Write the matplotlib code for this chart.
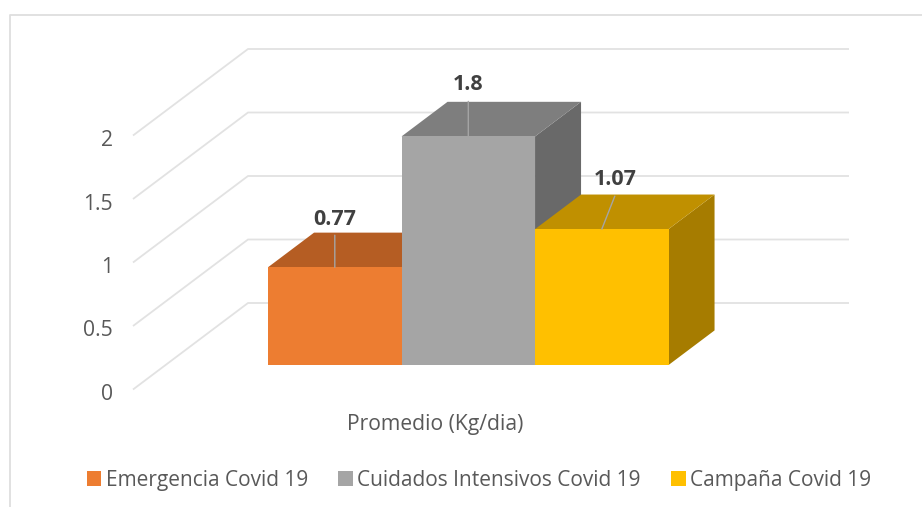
import matplotlib
matplotlib.use("Agg")
import matplotlib.pyplot as plt
from matplotlib.patches import Polygon, Patch
from matplotlib.lines import Line2D

plt.rcParams['font.family'] = ['Open Sans', 'DejaVu Sans']

# Data
series = ['Emergencia Covid 19', 'Cuidados Intensivos Covid 19', 'Campaña Covid 19']
values = [0.77, 1.8, 1.07]
category = 'Promedio (Kg/dia)'
y_ticks = [0, 0.5, 1, 1.5, 2]
y_tick_labels = ['0', '0.5', '1', '1.5', '2']

# Styles: front, top, side
front = ['#ED7D31', '#A5A5A5', '#FFC000']
top = ['#B55D23', '#7E7E7E', '#C09000']
side = ['#8F4A1C', '#696969', '#A67C00']
grid_c = '#E2E2E2'
text_c = '#595959'

# Layout, in pixels of the 922x507 picture
W, H = 922, 507
PX0, PW = 133, 601      # front plane: left, width
PY0, PU = 389.5, 127    # front plane: baseline, pixels per unit
DX, DY = 115 / PW, 86.5 / PU  # full depth offset in data units
GAP = 102.5 / PW
BW = 133.5 / PW
D0, D1 = 0.283, 0.683   # bar depth range


def proj(x, y, d):
    return (x + DX * d, y + DY * d)


fig = plt.figure(figsize=(W / 100, H / 100), dpi=100)
ax = fig.add_axes([0, 0, 1, 1])
ax.set_xlim(-PX0 / PW, (W - PX0) / PW)
ax.set_ylim((PY0 - H) / PU, PY0 / PU)
ax.axis('off')

# Chart frame (left and top edges only are visible)
fig.add_artist(Line2D([10 / W, 10 / W, 1], [0, 1 - 14.5 / H, 1 - 14.5 / H],
                      color='#DEDEDE', lw=1.3))

# Walls gridlines
for t, lab in zip(y_ticks, y_tick_labels):
    bx, by = proj(0, t, 1)
    ex, ey = proj(1, t, 1)
    ax.plot([0, bx, ex], [t, by, ey], color=grid_c, lw=1.3, zorder=1,
            solid_capstyle='butt', solid_joinstyle='miter')
    ax.annotate(lab, xy=(0, t), xytext=(-20, -5), textcoords='offset pixels',
                ha='right', va='center', fontsize=15.2, color=text_c)

# Bars
for i, v in enumerate(values):
    x0 = GAP + i * BW
    x1 = x0 + BW
    a = proj(x0, 0, D0)
    b = proj(x1, 0, D0)
    c = proj(x1, v, D0)
    d = proj(x0, v, D0)
    e = proj(x0, v, D1)
    f = proj(x1, v, D1)
    g = proj(x1, 0, D1)
    z = 3 + i
    ax.add_patch(Polygon([b, g, f, c], fc=side[i], ec='none', zorder=z))
    ax.add_patch(Polygon([d, c, f, e], fc=top[i], ec='none', zorder=z))
    ax.add_patch(Polygon([a, b, c, d], fc=front[i], ec='none', zorder=z))

# Data labels with leader lines: (leader end offset, label centre offset) in px
leader = [((0, 32), (0, 48)), ((0, 35), (0, 52)), ((13, 33), (13, 50))]
for i, v in enumerate(values):
    cx, cy = proj(GAP + (i + 0.5) * BW, v, D0)
    (lx, ly), (tx, ty) = leader[i]
    ax.annotate('', xy=(cx, cy), xytext=(lx, ly), textcoords='offset pixels',
                arrowprops=dict(arrowstyle='-', color='#A5A5A5', lw=1,
                                shrinkA=0, shrinkB=0), zorder=10)
    ax.annotate(f'{v:g}', xy=(cx, cy), xytext=(tx, ty), textcoords='offset pixels',
                ha='center', va='center', fontsize=15.5, fontweight='bold',
                color='#404040', zorder=10)

# Category label
ax.annotate(category, xy=(0.5, 0), xytext=(2, -35), textcoords='offset pixels',
            ha='center', va='center', fontsize=15.2, color=text_c)

handles = [Patch(fc=c, ec='none') for c in front]
fig.legend(handles, series, loc='center', bbox_to_anchor=(479 / W, 1 - 480.5 / H),
           ncol=3, frameon=False, fontsize=15, labelcolor=text_c,
           handlelength=0.7, handleheight=0.7, handletextpad=0.2,
           columnspacing=1.47, borderpad=0, borderaxespad=0)

fig.savefig('out.png', dpi=100)
